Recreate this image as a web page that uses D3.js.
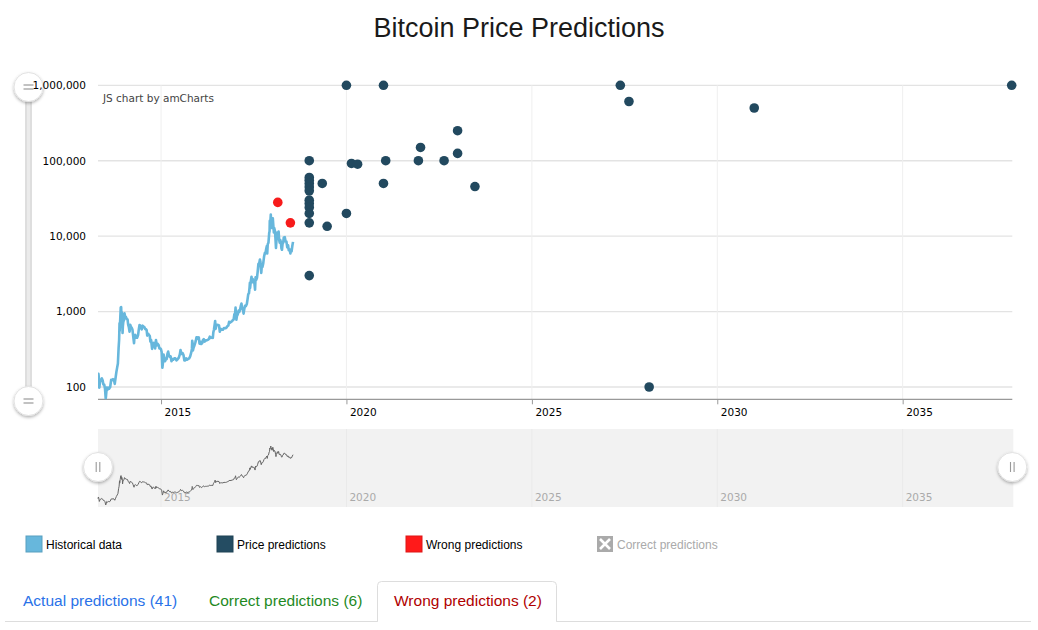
<!DOCTYPE html>
<html><head><meta charset="utf-8">
<script src="https://cdn.jsdelivr.net/npm/d3@7/dist/d3.min.js"></script>
<style>
html,body{margin:0;padding:0;background:#fff;}
svg{display:block;}
</style></head>
<body>
<script>
// ---------- DATA ----------
const histDates = ["2013-04-20","2013-04-24","2013-04-28","2013-05-03","2013-05-10","2013-05-18","2013-05-28","2013-06-05","2013-06-12","2013-06-20","2013-06-28","2013-07-05","2013-07-08","2013-07-15","2013-07-22","2013-07-30","2013-08-08","2013-08-18","2013-08-28","2013-09-05","2013-09-15","2013-09-25","2013-10-02","2013-10-08","2013-10-18","2013-10-26","2013-11-02","2013-11-09","2013-11-14","2013-11-18","2013-11-20","2013-11-25","2013-11-30","2013-12-04","2013-12-08","2013-12-10","2013-12-15","2013-12-18","2013-12-21","2013-12-26","2014-01-01","2014-01-06","2014-01-12","2014-01-20","2014-01-28","2014-02-05","2014-02-11","2014-02-18","2014-02-25","2014-03-03","2014-03-10","2014-03-18","2014-03-25","2014-04-01","2014-04-10","2014-04-14","2014-04-22","2014-05-01","2014-05-10","2014-05-20","2014-05-27","2014-06-03","2014-06-10","2014-06-18","2014-06-25","2014-07-03","2014-07-12","2014-07-20","2014-07-30","2014-08-05","2014-08-12","2014-08-18","2014-08-26","2014-09-05","2014-09-12","2014-09-18","2014-09-25","2014-10-05","2014-10-12","2014-10-20","2014-10-28","2014-11-04","2014-11-12","2014-11-20","2014-11-28","2014-12-08","2014-12-16","2014-12-24","2015-01-01","2015-01-07","2015-01-14","2015-01-20","2015-01-26","2015-02-02","2015-02-10","2015-02-18","2015-02-26","2015-03-05","2015-03-12","2015-03-20","2015-03-28","2015-04-05","2015-04-14","2015-04-22","2015-05-01","2015-05-12","2015-05-22","2015-06-02","2015-06-15","2015-06-25","2015-07-05","2015-07-12","2015-07-20","2015-08-01","2015-08-10","2015-08-19","2015-08-27","2015-09-06","2015-09-15","2015-09-25","2015-10-05","2015-10-15","2015-10-25","2015-11-01","2015-11-04","2015-11-08","2015-11-11","2015-11-18","2015-11-26","2015-12-05","2015-12-10","2015-12-16","2015-12-24","2016-01-01","2016-01-08","2016-01-15","2016-01-24","2016-02-01","2016-02-10","2016-02-18","2016-02-26","2016-03-05","2016-03-15","2016-03-25","2016-04-05","2016-04-15","2016-04-25","2016-05-05","2016-05-15","2016-05-25","2016-05-30","2016-06-05","2016-06-12","2016-06-17","2016-06-22","2016-06-28","2016-07-05","2016-07-15","2016-07-25","2016-08-02","2016-08-10","2016-08-20","2016-09-01","2016-09-12","2016-09-25","2016-10-05","2016-10-15","2016-10-25","2016-11-01","2016-11-10","2016-11-20","2016-11-30","2016-12-08","2016-12-16","2016-12-23","2016-12-31","2017-01-04","2017-01-08","2017-01-12","2017-01-18","2017-01-26","2017-02-03","2017-02-10","2017-02-17","2017-02-24","2017-03-03","2017-03-10","2017-03-17","2017-03-24","2017-03-31","2017-04-07","2017-04-15","2017-04-25","2017-05-02","2017-05-09","2017-05-16","2017-05-22","2017-05-25","2017-05-27","2017-06-03","2017-06-10","2017-06-16","2017-06-22","2017-06-30","2017-07-07","2017-07-15","2017-07-20","2017-07-27","2017-08-03","2017-08-10","2017-08-17","2017-08-24","2017-09-01","2017-09-06","2017-09-14","2017-09-19","2017-09-26","2017-10-03","2017-10-12","2017-10-20","2017-10-26","2017-11-01","2017-11-08","2017-11-12","2017-11-17","2017-11-24","2017-11-29","2017-12-01","2017-12-05","2017-12-07","2017-12-10","2017-12-14","2017-12-17","2017-12-20","2017-12-22","2017-12-26","2017-12-30","2018-01-06","2018-01-10","2018-01-16","2018-01-20","2018-01-28","2018-02-02","2018-02-06","2018-02-10","2018-02-16","2018-02-20","2018-02-25","2018-03-04","2018-03-10","2018-03-15","2018-03-20","2018-03-25","2018-04-01","2018-04-06","2018-04-12","2018-04-18","2018-04-24","2018-05-04","2018-05-12","2018-05-20","2018-05-28","2018-06-05","2018-06-12","2018-06-20","2018-06-28","2018-07-04","2018-07-10","2018-07-17","2018-07-24"];
const histValues = [127,150,135,98,117,123,130,122,108,108,95,70,76,98,92,98,95,100,125,123,127,124,110,126,158,182,205,330,420,700,560,800,1130,1150,800,980,860,520,640,740,770,950,860,850,800,790,670,620,540,670,630,610,580,480,380,460,490,450,450,490,580,665,650,610,580,650,630,625,585,585,570,480,510,490,475,400,420,320,380,385,355,325,420,355,375,360,325,325,315,290,180,210,270,240,220,240,235,275,295,262,250,255,220,235,230,240,240,225,235,245,270,310,275,282,265,225,225,240,230,235,240,255,285,320,410,375,305,335,355,390,415,455,455,434,455,375,400,372,380,420,430,400,415,415,422,430,465,447,455,448,530,575,670,750,590,650,670,665,655,540,590,580,575,605,600,610,640,655,730,715,730,745,770,785,920,960,1130,900,780,880,920,1030,990,1050,1180,1280,1100,1070,940,1080,1190,1180,1260,1450,1700,1750,2100,2400,2050,2500,2900,2450,2700,2450,2500,1950,2850,2650,2800,3400,4300,4300,4900,4600,3250,3900,3900,4300,5400,6000,5900,6700,7400,5900,7800,8200,9900,10900,11600,16000,15000,16500,19300,16000,13800,15800,12800,17200,14500,11200,12800,11500,8800,7000,8500,10100,11200,9600,11500,8800,8200,8900,8500,6900,6600,7900,8200,9600,9700,8500,8500,7100,7600,6500,6700,5900,6600,6300,7400,8400];

const predDates = ["2018-12-31","2018-12-31","2018-12-31","2018-12-31","2018-12-31","2018-12-31","2018-12-31","2018-12-31","2018-12-31","2018-12-31","2018-12-31","2018-12-31","2019-05-08","2019-06-25","2020-01-01","2020-01-01","2020-02-20","2020-04-20","2020-12-31","2020-12-31","2021-01-22","2021-12-10","2021-12-31","2022-08-20","2022-12-31","2022-12-31","2023-06-20","2027-05-22","2027-08-15","2028-03-01","2030-12-31","2037-12-10"];
const predValues = [100000,60000,55000,50000,45000,40000,30000,27000,24000,20000,15000,3000,50000,13500,1000000,20000,92000,90000,1000000,50000,100000,100000,150000,100000,250000,125000,45500,1000000,610000,100,500000,1000000];

const wrongDates = ["2018-02-24","2018-06-28"];
const wrongValues = [28000,15000];

const yTickValues = [100,1000,10000,100000,1000000];
const xTickYears = [2015,2020,2025,2030,2035];
const legendLabels = ["Historical data","Price predictions","Wrong predictions","Correct predictions"];
const tabLabels = ["Actual predictions (41)","Correct predictions (6)","Wrong predictions (2)"];

// ---------- SETUP ----------
const W = 1038, H = 630;
const parse = d3.timeParse("%Y-%m-%d");
const hist = histDates.map((d,i)=>({date:parse(d), value:histValues[i]}));
const preds = predDates.map((d,i)=>({date:parse(d), value:predValues[i]}));
const wrongs = wrongDates.map((d,i)=>({date:parse(d), value:wrongValues[i]}));

const plot = {left:98, right:1012.3, top:85.3, bottom:399.3};
const x = d3.scaleTime().domain([parse("2013-04-20"), parse("2037-12-16")]).range([plot.left, plot.right]);
const y = d3.scaleLog().domain([68.7, 1000000]).range([plot.bottom, plot.top]);

const COL_HIST = "#67b7dc", COL_PRED = "#22495f", COL_WRONG = "#f71b1b";
const AXFONT = "'DejaVu Sans', Verdana, sans-serif";
const ARIAL = "'Liberation Sans', Arial, sans-serif";

const svg = d3.select("body").append("svg").attr("width",W).attr("height",H);
const defs = svg.append("defs");
defs.append("clipPath").attr("id","plotclip").append("rect")
  .attr("x",plot.left).attr("y",plot.top-8).attr("width",plot.right-plot.left+8).attr("height",plot.bottom-plot.top+8);
const f = defs.append("filter").attr("id","shadow").attr("x","-50%").attr("y","-50%").attr("width","200%").attr("height","200%");
f.append("feDropShadow").attr("dx",0).attr("dy",1.5).attr("stdDeviation",1.6).attr("flood-color","#000").attr("flood-opacity",0.3);

// Title
svg.append("text").attr("x",519).attr("y",37).attr("text-anchor","middle")
  .style("font-family",ARIAL).style("font-size","27px").attr("fill","#1a1a1a").text("Bitcoin Price Predictions");

// Gridlines (horizontal)
const grid = svg.append("g");
grid.selectAll("line.h").data(yTickValues).join("line")
  .attr("x1",plot.left).attr("x2",plot.right).attr("y1",d=>y(d)).attr("y2",d=>y(d))
  .attr("stroke","#e3e3e3").attr("stroke-width",1.3);
// vertical gridlines
const xTickDates = xTickYears.map(yy=>new Date(yy,0,1));
grid.selectAll("line.v").data(xTickDates).join("line")
  .attr("x1",d=>x(d)).attr("x2",d=>x(d)).attr("y1",plot.top).attr("y2",plot.bottom)
  .attr("stroke","#efefef").attr("stroke-width",1);

// X axis
const xAxis = d3.axisBottom(x).tickValues(xTickDates).tickFormat(d3.timeFormat("%Y")).tickSize(5).tickSizeOuter(0);
const gx = svg.append("g").attr("transform",`translate(0,${plot.bottom})`).call(xAxis);
gx.select(".domain").attr("stroke","#999").attr("stroke-width",1.2).attr("d",`M${plot.left},0H${plot.right}`);
gx.selectAll(".tick line").attr("stroke","#999");
gx.selectAll(".tick text").attr("text-anchor","start").attr("x",3).attr("y",9)
  .style("font-family",AXFONT).style("font-size","10.5px").attr("fill","#000");

// Y axis
const yAxis = d3.axisLeft(y).tickValues(yTickValues).tickFormat(d3.format(",")).tickSize(0);
// Left vertical scrollbar (behind labels)
const vs = svg.append("g");
vs.append("rect").attr("x",25).attr("y",87).attr("width",7).attr("height",314).attr("fill","#dedede");
vs.append("rect").attr("x",27).attr("y",87).attr("width",3).attr("height",314).attr("fill","#ebebeb");
[87,401].forEach(cy=>{
  vs.append("circle").attr("cx",28.5).attr("cy",cy).attr("r",14.5).attr("fill","#fff").attr("stroke","#e2e2e2").attr("filter","url(#shadow)");
  [-2,2].forEach(dy=>vs.append("line").attr("x1",23.5).attr("x2",33.5).attr("y1",cy+dy).attr("y2",cy+dy).attr("stroke","#999").attr("stroke-width",1.2));
});
const gy = svg.append("g").attr("transform",`translate(${plot.left},0)`).call(yAxis);
gy.select(".domain").remove();
gy.selectAll(".tick text").attr("x",-12)
  .style("font-family",AXFONT).style("font-size","10.5px").attr("fill","#000");

// Credit
svg.append("text").attr("x",103).attr("y",102).style("font-family",AXFONT).style("font-size","10.5px")
  .attr("fill","#444").text("JS chart by amCharts");

// Historical line
const line = d3.line().x(d=>x(d.date)).y(d=>y(d.value)).curve(d3.curveLinear);
svg.append("path").datum(hist).attr("clip-path","url(#plotclip)")
  .attr("d",line).attr("fill","none").attr("stroke",COL_HIST).attr("stroke-width",2.6).attr("stroke-linejoin","round");

// Predictions
svg.append("g").selectAll("circle").data(preds).join("circle")
  .attr("cx",d=>x(d.date)).attr("cy",d=>y(d.value)).attr("r",4.8).attr("fill",COL_PRED);
svg.append("g").selectAll("circle").data(wrongs).join("circle")
  .attr("cx",d=>x(d.date)).attr("cy",d=>y(d.value)).attr("r",4.8).attr("fill",COL_WRONG);

// ---------- Bottom scrollbar ----------
const sb = {top:429, bottom:507};
svg.append("rect").attr("x",plot.left).attr("y",sb.top).attr("width",plot.right-plot.left+1).attr("height",sb.bottom-sb.top).attr("fill","#f2f2f2");
svg.append("g").selectAll("line").data(xTickDates).join("line")
  .attr("x1",d=>x(d)).attr("x2",d=>x(d)).attr("y1",sb.top).attr("y2",sb.bottom).attr("stroke","#eaeaea");
const ys = d3.scaleLog().domain(d3.extent(histValues)).range([505,446]);
const miniLine = d3.line().x(d=>x(d.date)).y(d=>ys(d.value));
svg.append("path").datum(hist).attr("d",miniLine).attr("fill","none").attr("stroke","#666").attr("stroke-width",1);
svg.append("g").selectAll("text").data(xTickDates).join("text")
  .attr("x",d=>x(d)+3).attr("y",501).style("font-family",AXFONT).style("font-size","10.5px")
  .attr("fill","#aaa").text(d3.timeFormat("%Y"));
[plot.left, plot.right].forEach(cx=>{
  svg.append("circle").attr("cx",cx).attr("cy",467).attr("r",14.5).attr("fill","#fff").attr("stroke","#e2e2e2").attr("filter","url(#shadow)");
  [-1.8,1.8].forEach(dx=>svg.append("line").attr("x1",cx+dx).attr("x2",cx+dx).attr("y1",462).attr("y2",472).attr("stroke","#999").attr("stroke-width",1.1));
});

// ---------- Legend ----------
const legX = [26,217,406,597];
const legCol = [COL_HIST, "#244c62", "#ff1a1a", null];
const leg = svg.append("g");
legendLabels.forEach((lbl,i)=>{
  if (legCol[i]) {
    leg.append("rect").attr("x",legX[i]).attr("y",536).attr("width",16).attr("height",16)
      .attr("fill",legCol[i]).attr("stroke",d3.color(legCol[i]).darker(0.4)).attr("stroke-width",1);
  } else {
    leg.append("rect").attr("x",legX[i]).attr("y",536).attr("width",16).attr("height",16).attr("fill","#aaaaaa");
    leg.append("path").attr("d",`M${legX[i]+3},539L${legX[i]+13},549M${legX[i]+13},539L${legX[i]+3},549`)
      .attr("stroke","#fff").attr("stroke-width",2.6);
  }
  leg.append("text").attr("x",legX[i]+20).attr("y",548.5).style("font-family",ARIAL).style("font-size","12px")
    .attr("fill", legCol[i] ? "#000" : "#aaa").text(lbl);
});

// ---------- Tabs ----------
const tabs = svg.append("g");
tabs.append("line").attr("x1",5).attr("x2",1031).attr("y1",621.5).attr("y2",621.5).attr("stroke","#ddd");
tabs.append("path").attr("d","M377.5,621.5V585.5Q377.5,581.5 381.5,581.5H552.5Q556.5,581.5 556.5,585.5V621.5")
  .attr("fill","#fff").attr("stroke","#ddd");
tabs.append("line").attr("x1",378).attr("x2",556).attr("y1",621.5).attr("y2",621.5).attr("stroke","#fff").attr("stroke-width",1.5);
const tabX = [23,209,394];
const tabCol = ["#2a72e8","#1f8a1f","#b00000"];
tabLabels.forEach((t,i)=>{
  tabs.append("text").attr("x",tabX[i]).attr("y",606).style("font-family",ARIAL).style("font-size","15.5px")
    .attr("fill",tabCol[i]).text(t);
});
</script>
</body></html>
